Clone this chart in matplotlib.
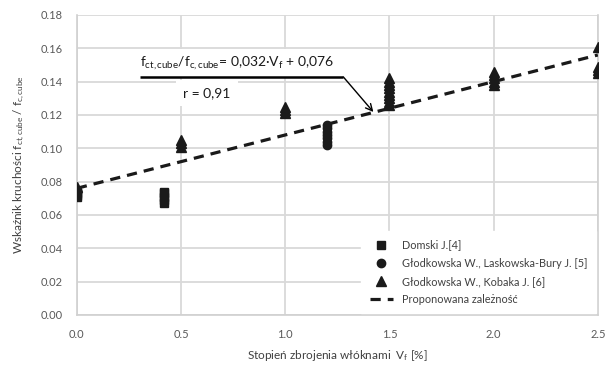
import matplotlib
matplotlib.use("Agg")
import matplotlib.pyplot as plt
import numpy as np

plt.rcParams['font.family'] = ['Lato', 'DejaVu Sans']
plt.rcParams['mathtext.fontset'] = 'custom'
plt.rcParams['mathtext.rm'] = 'Lato'
plt.rcParams['mathtext.it'] = 'Lato:italic'

# Data
domski_x = [0.0, 0.0, 0.0, 0.42, 0.42, 0.42, 0.42, 0.42]
domski_y = [0.071, 0.072, 0.073, 0.067, 0.069, 0.071, 0.073, 0.074]

lask_x = [0.0, 0.0, 1.2, 1.2, 1.2, 1.2, 1.2, 1.2, 1.2]
lask_y = [0.074, 0.075, 0.102, 0.104, 0.106, 0.108, 0.110, 0.112, 0.114]

kob_x = [0.0, 0.5, 0.5, 0.5, 1.0, 1.0, 1.0,
         1.5, 1.5, 1.5, 1.5, 1.5, 1.5, 1.5, 1.5, 1.5,
         2.0, 2.0, 2.0, 2.0, 2.0,
         2.5, 2.5, 2.5, 2.5]
kob_y = [0.077, 0.101, 0.103, 0.105, 0.121, 0.123, 0.125,
         0.126, 0.128, 0.130, 0.132, 0.134, 0.136, 0.138, 0.140, 0.142,
         0.138, 0.140, 0.142, 0.144, 0.146,
         0.145, 0.147, 0.149, 0.161]

fit_slope = 0.032
fit_intercept = 0.076
fit_x = [0.0, 2.5]

labels = ['Domski J.[4]',
          'Głodkowska W., Laskowska-Bury J. [5]',
          'Głodkowska W., Kobaka J. [6]',
          'Proponowana zależność']

xticks = [0.0, 0.5, 1.0, 1.5, 2.0, 2.5]
yticks = [0.00, 0.02, 0.04, 0.06, 0.08, 0.10, 0.12, 0.14, 0.16, 0.18]

fig = plt.figure(figsize=(6.10, 3.65), dpi=100)
ax = fig.add_axes([0.126, 0.137, 0.854, 0.822])

mk = '#1a1a1a'
ax.plot(domski_x, domski_y, 's', color=mk, ms=5.5, ls='none', label=labels[0], zorder=3)
ax.plot(lask_x, lask_y, 'o', color=mk, ms=6, ls='none', label=labels[1], zorder=3)
ax.plot(kob_x, kob_y, '^', color=mk, ms=6.5, ls='none', label=labels[2], zorder=3)
fy = [fit_slope * v + fit_intercept for v in fit_x]
ax.plot(fit_x, fy, color=mk, lw=2.3, dashes=(3.2, 2.2), label=labels[3], zorder=4)

ax.set_xlim(0, 2.5)
ax.set_ylim(0, 0.18)
ax.set_xticks(xticks)
ax.set_xticklabels([f'{v:.1f}' for v in xticks])
ax.set_yticks(yticks)
ax.set_yticklabels([f'{v:.2f}' for v in yticks])
ax.tick_params(length=0, labelsize=8, colors='#595959', pad=10)
ax.grid(True, color='#d9d9d9', lw=1.3)
ax.set_axisbelow(True)
for s in ['left', 'bottom', 'right']:
    ax.spines[s].set_color('#d0d0d0')
    ax.spines[s].set_linewidth(1.2)
ax.spines['top'].set_visible(False)

ax.set_xlabel('Stopień zbrojenia włóknami  V$_{\\mathrm{f}}$ [%]', fontsize=8.5, color='#404040', labelpad=6)
ax.set_ylabel('Wskaźnik kruchości f$_{\\mathrm{ct,cube}}$ / f$_{\\mathrm{c,cube}}$', fontsize=8.5, color='#404040', labelpad=10)

leg = ax.legend(loc='lower right', fontsize=7.8, frameon=True, fancybox=False,
                edgecolor='white', facecolor='white', framealpha=1,
                borderaxespad=0.15, handlelength=2.2, labelspacing=0.65,
                borderpad=0.8)
for t in leg.get_texts():
    t.set_color('#404040')

# Annotation
ax.text(0.77, 0.1512, 'f$_{\\mathrm{ct,cube}}$/f$_{\\mathrm{c,cube}}$= 0,032·V$_{\\mathrm{f}}$ + 0,076',
        fontsize=10, ha='center', va='center', color='#1a1a1a', zorder=5,
        bbox=dict(facecolor='white', edgecolor='none', pad=4))
ax.text(0.625, 0.1332, 'r = 0,91', fontsize=10, ha='center', va='center', color='#1a1a1a', zorder=5,
        bbox=dict(facecolor='white', edgecolor='none', pad=5))
ax.plot([0.303, 1.279], [0.1428, 0.1428], color='black', lw=1.8, zorder=6, solid_capstyle='butt')
ax.annotate('', xy=(1.423, 0.1218), xytext=(1.279, 0.1428),
            arrowprops=dict(arrowstyle='->', color='black', lw=1.0, mutation_scale=12,
                            shrinkA=0, shrinkB=0), zorder=6)

fig.savefig('out.png', dpi=100)
